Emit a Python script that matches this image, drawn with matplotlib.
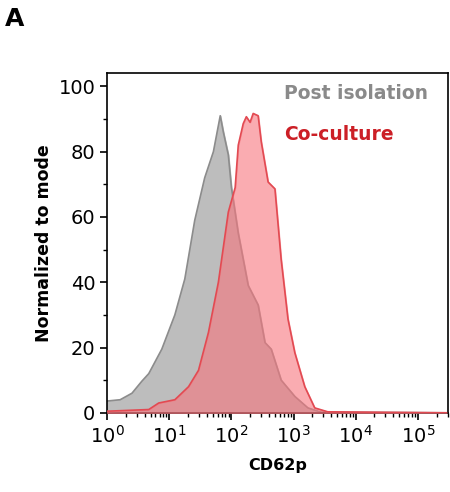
import numpy as np
import matplotlib.pyplot as plt
from matplotlib.ticker import MultipleLocator, LogLocator, NullFormatter

# log10 of CD62p intensity and normalized counts
post_logx = [0, 0.21, 0.4, 0.56, 0.67, 0.88, 1.09, 1.25, 1.41, 1.57, 1.71, 1.76, 1.82, 1.87,
             1.95, 2.0, 2.11, 2.27, 2.43, 2.54, 2.64, 2.8, 3.02, 3.23, 3.44, 5.46]
post_y = [3.6, 4, 6, 9.7, 12, 19.5, 30, 41, 59, 72, 80, 85, 91, 86,
          79, 69, 55, 39, 33, 21.5, 19.5, 10, 5, 1.5, 0.2, 0]
co_logx = [0, 0.02, 0.67, 0.83, 1.09, 1.31, 1.47, 1.63, 1.79, 1.95, 2.06, 2.11, 2.19, 2.24,
           2.30, 2.35, 2.43, 2.48, 2.59, 2.70, 2.80, 2.91, 3.02, 3.18, 3.34, 3.55, 5.46]
co_y = [0.5, 0.5, 1, 3, 4, 8, 13, 24.6, 40, 61.5, 69, 82, 88.6, 90.7,
        89, 91.7, 91, 83, 70.7, 68.6, 47, 28.7, 18.4, 8, 1.5, 0.3, 0]

fig = plt.figure(figsize=(4.5, 4.92), dpi=100)
ax = fig.add_axes([0.238, 0.161, 0.757, 0.69])

px = 10 ** np.array(post_logx)
cx = 10 ** np.array(co_logx)
ax.fill_between(px, post_y, color='#bdbdbd', zorder=1)
ax.plot(px, post_y, color='#8c8c8c', lw=1.2, zorder=2)
ax.fill_between(cx, co_y, color='#f7757d', alpha=0.6, zorder=3)
ax.plot(cx, co_y, color='#e24a52', lw=1.2, zorder=4)

ax.set_xscale('log')
ax.set_xlim(1, 10 ** 5.48)
ax.set_ylim(0, 104)
ax.yaxis.set_major_locator(MultipleLocator(20))
ax.yaxis.set_minor_locator(MultipleLocator(10))
ax.xaxis.set_major_locator(LogLocator(base=10, numticks=10))
ax.xaxis.set_minor_locator(LogLocator(base=10, subs=np.arange(2, 10), numticks=10))
ax.xaxis.set_minor_formatter(NullFormatter())
ax.tick_params(axis='both', which='major', labelsize=14, length=5, width=1.2)
ax.tick_params(axis='both', which='minor', length=3, width=1)
for s in ax.spines.values():
    s.set_linewidth(1.2)

ax.set_ylabel('Normalized to mode', fontsize=12.5, fontweight='bold')
ax.set_xlabel('CD62p', fontsize=11.5, fontweight='bold', labelpad=8)

ax.text(0.52, 0.94, 'Post isolation', transform=ax.transAxes, color='#8a8a8a',
        fontsize=13.5, fontweight='bold', va='center')
ax.text(0.52, 0.82, 'Co-culture', transform=ax.transAxes, color='#cc1f26',
        fontsize=13.5, fontweight='bold', va='center')
fig.text(0.01, 0.985, 'A', fontsize=18, fontweight='bold', va='top')

fig.savefig('out.png', dpi=100)
